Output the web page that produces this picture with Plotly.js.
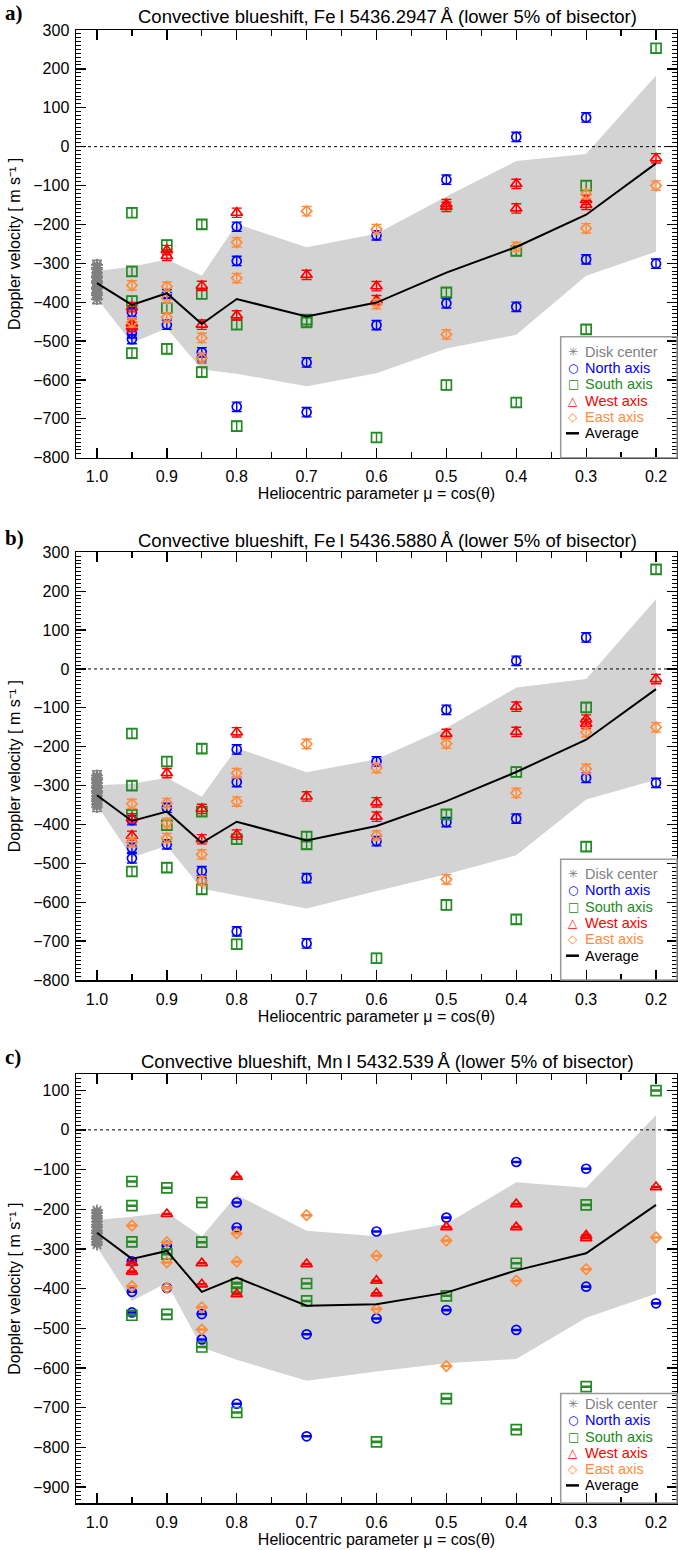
<!DOCTYPE html>
<html><head><meta charset="utf-8">
<script src="https://cdn.plot.ly/plotly-3.0.1.min.js"></script>
<style>html,body{margin:0;padding:0;background:#fff}</style>
</head><body><div id="chart" style="width:678px;height:1550px"></div>
<script>
// ---------- data ----------
const mu = [1.0, 0.95, 0.9, 0.85, 0.8, 0.7, 0.6, 0.5, 0.4, 0.3, 0.2];
const xTickVals = [1.0, 0.9, 0.8, 0.7, 0.6, 0.5, 0.4, 0.3, 0.2];
const seriesNames = ['Disk center', 'North axis', 'South axis', 'West axis', 'East axis', 'Average'];
const panelTitles = [
  'Convective blueshift, Fe\u2009I 5436.2947\u2009\u00C5 (lower 5% of bisector)',
  'Convective blueshift, Fe\u2009I 5436.5880\u2009\u00C5 (lower 5% of bisector)',
  'Convective blueshift, Mn\u2009I 5432.539\u2009\u00C5 (lower 5% of bisector)'
];
const panelLabels = ['a)', 'b)', 'c)'];
const xTitle = 'Heliocentric parameter \u03BC = cos(\u03B8)';
const yTitle = 'Doppler velocity [ m s\u207B\u00B9 ]';

// Panel a (Fe I 5436.2947)
const a_disk = [-304, -312, -316, -325, -333, -337, -346, -351, -361, -366, -376, -382, -392];
const a_northMu = [0.95,0.95,0.95,0.9,0.9,0.85,0.85,0.8,0.8,0.8,0.7,0.7,0.6,0.6,0.5,0.5,0.4,0.4,0.3,0.3,0.2];
const a_northV  = [-426,-480,-495,-379,-458,-529,-544,-206,-294,-669,-555,-683,-228,-459,-85,-403,25,-412,75,-290,-301];
const a_southMu = [0.95,0.95,0.95,0.95,0.9,0.9,0.9,0.85,0.85,0.85,0.8,0.8,0.7,0.7,0.6,0.5,0.5,0.4,0.4,0.3,0.3,0.2];
const a_southV  = [-170,-321,-397,-531,-253,-415,-520,-200,-379,-580,-458,-719,-445,-452,-748,-375,-613,-268,-658,-100,-470,253];
const a_westMu  = [0.95,0.95,0.95,0.9,0.9,0.85,0.85,0.8,0.8,0.7,0.6,0.6,0.5,0.5,0.4,0.4,0.3,0.3,0.2];
const a_westV   = [-413,-455,-464,-266,-281,-358,-458,-170,-434,-330,-359,-395,-148,-155,-96,-159,-137,-150,-30];
const a_eastMu  = [0.95,0.95,0.9,0.9,0.9,0.85,0.85,0.8,0.8,0.7,0.6,0.6,0.5,0.4,0.3,0.3,0.2];
const a_eastV   = [-357,-452,-360,-390,-439,-492,-544,-246,-338,-166,-212,-405,-483,-258,-122,-210,-100];
const a_avg     = [-351,-407,-377,-456,-392,-437,-401,-324,-258,-175,-43];
const a_bandHi  = [-320,-309,-290,-332,-199,-259,-224,-128,-37,-19,183];
const a_bandLo  = [-390,-505,-467,-573,-584,-616,-583,-519,-484,-332,-270];

// Panel b (Fe I 5436.5880)
const b_disk = [-274, -281, -286, -293, -301, -306, -314, -319, -327, -334, -340, -348, -355];
const b_northMu = [0.95,0.95,0.95,0.9,0.9,0.85,0.85,0.8,0.8,0.8,0.7,0.7,0.6,0.6,0.5,0.5,0.4,0.4,0.3,0.3,0.2];
const b_northV  = [-389,-460,-487,-357,-451,-520,-543,-207,-291,-675,-538,-706,-238,-443,-105,-394,21,-385,81,-280,-293];
const b_southMu = [0.95,0.95,0.95,0.95,0.9,0.9,0.9,0.85,0.85,0.85,0.8,0.8,0.7,0.7,0.6,0.5,0.5,0.4,0.4,0.3,0.3,0.2];
const b_southV  = [-166,-300,-375,-521,-238,-402,-511,-205,-367,-567,-438,-708,-431,-451,-744,-374,-607,-265,-644,-99,-457,256];
const b_westMu  = [0.95,0.95,0.9,0.85,0.85,0.8,0.8,0.7,0.6,0.6,0.5,0.4,0.4,0.3,0.3,0.2];
const b_westV   = [-384,-429,-268,-360,-438,-163,-426,-328,-343,-380,-167,-97,-162,-130,-141,-26];
const b_eastMu  = [0.95,0.95,0.9,0.9,0.9,0.85,0.85,0.8,0.8,0.7,0.6,0.6,0.5,0.5,0.4,0.3,0.3,0.2];
const b_eastV   = [-347,-446,-345,-396,-435,-477,-545,-268,-341,-193,-255,-428,-192,-541,-319,-163,-257,-150];
const b_avg     = [-325,-391,-367,-447,-393,-441,-404,-340,-265,-182,-52];
const b_bandHi  = [-299,-295,-280,-329,-203,-266,-232,-152,-48,-26,179];
const b_bandLo  = [-350,-485,-455,-565,-582,-616,-571,-528,-479,-336,-285];

// Panel c (Mn I 5432.539)
const c_disk = [-203, -209, -217, -223, -231, -239, -245, -254, -260, -269, -275, -283, -289];
const c_northMu = [0.95,0.95,0.95,0.9,0.9,0.85,0.85,0.8,0.8,0.8,0.7,0.7,0.6,0.6,0.5,0.5,0.4,0.4,0.3,0.3,0.2];
const c_northV  = [-331,-408,-460,-292,-398,-464,-528,-183,-246,-690,-515,-772,-256,-475,-221,-454,-81,-504,-98,-395,-437];
const c_southMu = [0.95,0.95,0.95,0.95,0.9,0.9,0.9,0.85,0.85,0.85,0.8,0.8,0.8,0.7,0.7,0.6,0.5,0.5,0.4,0.4,0.3,0.3,0.2];
const c_southV  = [-130,-191,-282,-467,-146,-313,-465,-183,-283,-547,-387,-397,-712,-387,-431,-786,-418,-677,-336,-755,-189,-647,99];
const c_westMu  = [0.95,0.95,0.9,0.85,0.85,0.8,0.8,0.7,0.6,0.6,0.5,0.4,0.4,0.3,0.3,0.2];
const c_westV   = [-335,-357,-212,-336,-389,-118,-414,-338,-380,-412,-245,-187,-245,-266,-273,-144];
const c_eastMu  = [0.95,0.95,0.9,0.9,0.9,0.85,0.85,0.8,0.8,0.7,0.6,0.6,0.5,0.5,0.4,0.3,0.2];
const c_eastV   = [-241,-394,-283,-334,-398,-447,-503,-261,-332,-215,-317,-451,-279,-595,-380,-351,-271];
const c_avg     = [-259,-325,-305,-408,-372,-443,-439,-410,-354,-311,-189];
const c_bandHi  = [-227,-219,-208,-269,-164,-254,-268,-237,-132,-146,37];
const c_bandLo  = [-295,-431,-385,-548,-579,-632,-609,-588,-577,-473,-413];

// ---------- styling / layout ----------
const COLORS = ['#808080', '#0000ff', '#228b22', '#ff0000', '#ff8c3c', '#000000'];
const SYMBOLS = ['asterisk-open', 'circle-open', 'square-open', 'triangle-up-open', 'diamond-open'];
const SIZES = [10, 9, 10, 10, 8];
const GLYPHS = ['\u2733', '\u25CB', '\u25A1', '\u25B3', '\u25C7'];
const FONT = 'Liberation Sans, Arial, Helvetica, sans-serif';

const W = 678, H = 1550, ML = 76, MR = 1, MT = 30, MB = 47;
const PW = W - ML - MR, PH = H - MT - MB;
const px2x = p => (p - ML) / PW;
const py2y = p => (H - MB - p) / PH;
const panelPix = [[30, 457.7], [552.3, 980], [1074.3, 1503]];
const yRanges = [[-800, 300], [-800, 300], [-940, 140]];
const errVals = [12, 12, 1.5];
const titleY = [16.7, 540, 1061.7];
const labelY = [13.5, 537.5, 1057];
const LEG_STEP = 16.3;
const legendBottomItem = [24.4, 24.3, 17.6];
const legendTopGap = [15, 15, 10.5];

const panels = [
  {disk: a_disk, n: [a_northMu, a_northV], s: [a_southMu, a_southV], w: [a_westMu, a_westV], e: [a_eastMu, a_eastV], avg: a_avg, hi: a_bandHi, lo: a_bandLo},
  {disk: b_disk, n: [b_northMu, b_northV], s: [b_southMu, b_southV], w: [b_westMu, b_westV], e: [b_eastMu, b_eastV], avg: b_avg, hi: b_bandHi, lo: b_bandLo},
  {disk: c_disk, n: [c_northMu, c_northV], s: [c_southMu, c_southV], w: [c_westMu, c_westV], e: [c_eastMu, c_eastV], avg: c_avg, hi: c_bandHi, lo: c_bandLo}
];

const traces = [];
const layout = {
  width: W, height: H,
  margin: {l: ML, r: MR, t: MT, b: MB, pad: 0},
  paper_bgcolor: '#ffffff', plot_bgcolor: '#ffffff',
  showlegend: false,
  font: {family: FONT, size: 16, color: '#000'},
  annotations: [], shapes: []
};

panels.forEach((p, i) => {
  const sfx = i === 0 ? '' : String(i + 1);
  const xa = 'x' + sfx, ya = 'y' + sfx;
  // shaded band
  traces.push({
    type: 'scatter', mode: 'lines', xaxis: xa, yaxis: ya,
    x: mu.concat(mu.slice().reverse()),
    y: p.hi.concat(p.lo.slice().reverse()),
    fill: 'toself', fillcolor: '#d3d3d3', line: {width: 0, color: '#d3d3d3'},
    hoverinfo: 'skip', name: 'spread'
  });
  const groups = [
    [p.disk.map(() => 1.0), p.disk], p.n, p.s, p.w, p.e
  ];
  groups.forEach((g, k) => {
    traces.push({
      type: 'scatter', mode: 'markers', xaxis: xa, yaxis: ya,
      name: seriesNames[k], x: g[0], y: g[1],
      marker: {symbol: SYMBOLS[k], size: SIZES[k], color: COLORS[k], line: {color: COLORS[k], width: 1.7}},
      error_y: {type: 'constant', value: errVals[i], width: 5, thickness: 1.4, color: COLORS[k]}
    });
  });
  traces.push({
    type: 'scatter', mode: 'lines', xaxis: xa, yaxis: ya, name: seriesNames[5],
    x: mu, y: p.avg, line: {color: '#000', width: 2}
  });

  const [top, bot] = panelPix[i];
  const dom = [py2y(bot), py2y(top)];
  layout['xaxis' + sfx] = {
    domain: [0, 1], anchor: ya, range: [1.03, 0.17],
    tickvals: xTickVals, tickformat: '.1f',
    ticks: 'inside', ticklen: 10, tickwidth: 1.3, tickcolor: '#000',
    minor: {dtick: 0.05, tick0: 0, ticks: 'inside', ticklen: 6, tickwidth: 1.3, tickcolor: '#000'},
    showline: true, linecolor: '#000', linewidth: 1.5, mirror: 'allticks',
    showgrid: false, zeroline: false, tickfont: {size: 16}, ticklabelstandoff: 4,
    title: {text: xTitle, font: {size: 16}, standoff: 2}
  };
  layout['yaxis' + sfx] = {
    domain: dom, anchor: xa, range: yRanges[i],
    dtick: 100, tick0: 0, tickformat: 'd',
    ticks: 'inside', ticklen: 10, tickwidth: 1.3, tickcolor: '#000',
    minor: {dtick: 10, ticks: 'inside', ticklen: 5, tickwidth: 1, tickcolor: '#000'},
    showline: true, linecolor: '#000', linewidth: 1.5, mirror: 'allticks',
    showgrid: false, zeroline: false, tickfont: {size: 16}, ticklabelstandoff: 2,
    title: {text: yTitle, font: {size: 16}, standoff: 8}
  };
  // zero reference line
  layout.shapes.push({type: 'line', xref: xa + ' domain', x0: 0, x1: 1, yref: ya, y0: 0, y1: 0,
    line: {color: '#000', width: 1, dash: 'dot'}, layer: 'above'});
  // panel title and label
  layout.annotations.push({text: panelTitles[i], xref: 'paper', yref: 'paper', x: px2x(387), y: py2y(titleY[i]),
    xanchor: 'center', yanchor: 'middle', showarrow: false, borderpad: 0, font: {size: 18.5, family: FONT}});
  layout.annotations.push({text: '<b>' + panelLabels[i] + '</b>', xref: 'paper', yref: 'paper', x: px2x(4), y: py2y(labelY[i]),
    xanchor: 'left', yanchor: 'middle', showarrow: false, borderpad: 0, font: {size: 21, family: 'Liberation Serif, Times New Roman, serif'}});
  // legend (box, symbols, labels)
  const itemOff = seriesNames.map((_, k) => legendBottomItem[i] + (5 - k) * LEG_STEP);
  const boxTop = itemOff[0] + legendTopGap[i];
  layout.shapes.push({type: 'rect', xref: 'paper', yref: 'paper', x0: px2x(560.7), x1: 1,
    y0: py2y(bot), y1: py2y(bot - boxTop), line: {color: '#999', width: 1.5}, layer: 'above'});
  seriesNames.forEach((nm, k) => {
    const yy = py2y(bot - itemOff[k]);
    if (k < 5) {
      layout.annotations.push({text: GLYPHS[k], xref: 'paper', yref: 'paper', x: px2x(573), y: yy,
        xanchor: 'center', yanchor: 'middle', showarrow: false, borderpad: 0,
        font: {size: 12, family: 'DejaVu Sans, sans-serif', color: COLORS[k]}});
    } else {
      layout.shapes.push({type: 'line', xref: 'paper', yref: 'paper', x0: px2x(566), x1: px2x(579), y0: yy, y1: yy,
        line: {color: '#000', width: 2.5}, layer: 'above'});
    }
    layout.annotations.push({text: nm, xref: 'paper', yref: 'paper', x: px2x(583.5), y: yy,
      xanchor: 'left', yanchor: 'middle', showarrow: false, borderpad: 0,
      font: {size: 14.5, family: FONT, color: COLORS[k]}});
  });
});

Plotly.newPlot('chart', traces, layout, {staticPlot: true, displayModeBar: false});
</script>
</body></html>
